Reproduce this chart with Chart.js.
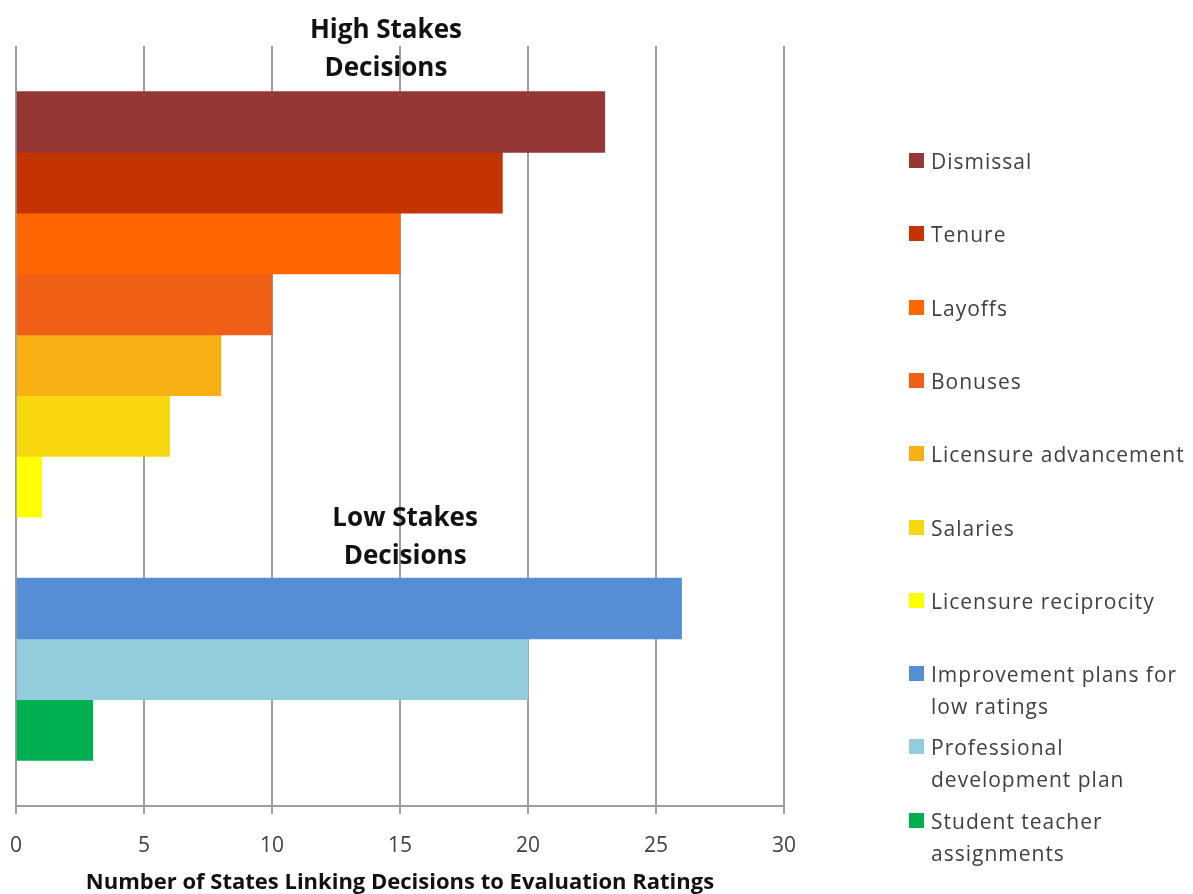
<!DOCTYPE html>
<html>
<head>
<meta charset="utf-8">
<title>States linking decisions to evaluation ratings</title>
<script src="https://cdn.jsdelivr.net/npm/chart.js@4.4.1/dist/chart.umd.min.js"></script>
<style>
  body { margin: 0; background: #fff; }
  #wrap { position: relative; width: 1193px; height: 894px; }
  #legend { position: absolute; left: 0; top: 0; font-family: "Open Sans", sans-serif; font-size: 21px; letter-spacing: 1px; color: #404040; }
  .item { position: absolute; left: 909px; line-height: 32px; }
  .box { position: absolute; left: 0; top: 8px; width: 15px; height: 15px; }
  .txt { position: absolute; left: 22px; top: 0; white-space: pre; }
</style>
</head>
<body>
<div id="wrap">
  <canvas id="myChart" width="1193" height="894"></canvas>
  <div id="legend"></div>
</div>
<script>
// data
const seriesNames = ['Dismissal', 'Tenure', 'Layoffs', 'Bonuses', 'Licensure advancement', 'Salaries',
    'Licensure reciprocity', 'Improvement plans for\nlow ratings', 'Professional\ndevelopment plan',
    'Student teacher\nassignments'];
const seriesValues = [23, 19, 15, 10, 8, 6, 1, 26, 20, 3];
const seriesColors = ['#953735', '#C43302', '#FF6600', '#EF5F16', '#F7B014', '#F9D70F', '#FFFF00',
    '#558ED5', '#93CDDD', '#00B050'];
const groupOf = [0, 0, 0, 0, 0, 0, 0, 1, 1, 1];
const groupTitles = [['High Stakes', 'Decisions'], ['Low Stakes', 'Decisions']];
const xTicks = [0, 5, 10, 15, 20, 25, 30];
const xTitle = 'Number of States Linking Decisions to Evaluation Ratings';

// one empty row between the two groups
const rows = seriesValues.map(function (v, i) { return i + groupOf[i]; });
const lastRow = rows[rows.length - 1];

const datasets = seriesNames.map(function (name, i) {
    return {
        label: name,
        data: [{x: seriesValues[i], y: rows[i]}],
        backgroundColor: seriesColors[i],
        borderWidth: 0,
        grouped: false,
        categoryPercentage: 1,
        barPercentage: 1
    };
});

// group headings over the bars
const groupTitlePlugin = {
    id: 'groupTitles',
    afterDraw: function (chart, args, opts) {
        const ctx = chart.ctx;
        const x = chart.scales.x, y = chart.scales.y;
        ctx.save();
        ctx.font = 'bold 26px "Open Sans", sans-serif';
        ctx.fillStyle = '#111';
        ctx.textAlign = 'center';
        ctx.textBaseline = 'middle';
        groupTitles.forEach(function (lines, g) {
            const cx = x.getPixelForValue(opts.xAt[g]);
            const cy = y.getPixelForValue(opts.yAt[g]);
            ctx.fillText(lines[0], cx, cy - 19);
            ctx.fillText(lines[1], cx, cy + 19);
        });
        ctx.restore();
    }
};

const gridGray = '#9d9d9d';

new Chart("myChart", {
    type: 'bar',
    data: {datasets: datasets},
    plugins: [groupTitlePlugin],
    options: {
        indexAxis: 'y',
        responsive: false,
        animation: false,
        devicePixelRatio: 1,
        layout: {padding: {left: 16, right: 409, top: 46, bottom: 0}},
        scales: {
            x: {
                type: 'linear',
                position: 'bottom',
                min: xTicks[0],
                max: xTicks[xTicks.length - 1],
                grid: {color: gridGray, lineWidth: 2, tickLength: 8, tickColor: gridGray},
                border: {display: true, color: gridGray, width: 2},
                ticks: {
                    stepSize: xTicks[1] - xTicks[0],
                    padding: 19,
                    color: '#404040',
                    font: {family: '"Open Sans", sans-serif', size: 21}
                },
                title: {
                    display: true,
                    text: xTitle,
                    color: '#111',
                    padding: {top: -5.2, bottom: 0},
                    font: {family: '"Open Sans", sans-serif', size: 22, weight: 'bold', lineHeight: 1}
                },
                afterFit: function (axis) {
                    axis.paddingLeft = 0;
                }
            },
            y: {
                type: 'linear',
                display: false,
                reverse: true,
                offset: false,
                bounds: 'data',
                min: -1.25,
                max: lastRow + 1.25,
                afterBuildTicks: function (axis) {
                    axis.ticks = rows.map(function (r) { return {value: r}; });
                }
            }
        },
        plugins: {
            legend: {display: false},
            tooltip: {enabled: false},
            groupTitles: {xAt: [14.45, 15.2], yAt: [-1.19, 6.83]}
        }
    }
});

// legend on the right
const legend = document.getElementById('legend');
seriesNames.forEach(function (name, i) {
    const item = document.createElement('div');
    item.className = 'item';
    item.style.top = (145 + 73.3 * i) + 'px';
    item.innerHTML = '<div class="box" style="background:' + seriesColors[i] + '"></div>' +
        '<div class="txt"></div>';
    item.querySelector('.txt').textContent = name;
    legend.appendChild(item);
});
</script>
</body>
</html>
